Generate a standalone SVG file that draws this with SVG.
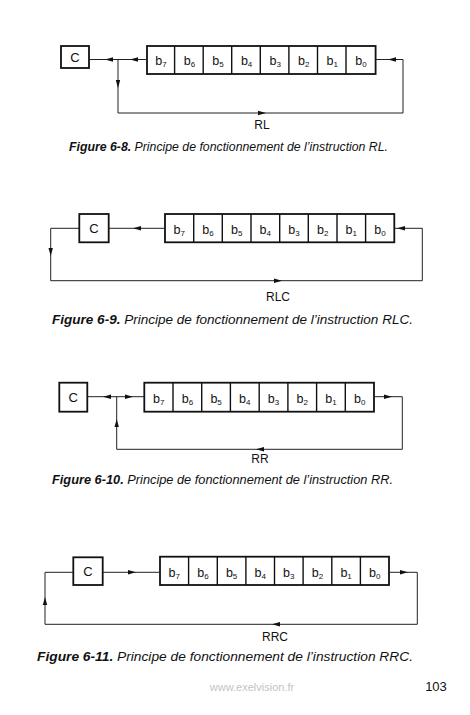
<svg xmlns="http://www.w3.org/2000/svg" width="470" height="715" viewBox="0 0 470 715">
<style>
.box{fill:#fff;stroke:#111;stroke-width:1.8}
.div{stroke:#111;stroke-width:1.4}
.ln{fill:none;stroke:#222;stroke-width:1}
.ah{fill:#111}
.bl{font-family:"Liberation Sans",Arial,sans-serif;font-size:12.5px;fill:#111;text-anchor:middle}
.sub{font-size:8px}
.cl{font-family:"Liberation Sans",Arial,sans-serif;font-size:13px;fill:#111;text-anchor:middle}
.lab{font-family:"Liberation Sans",Arial,sans-serif;font-size:12px;fill:#111;text-anchor:middle}
.cap{font-family:"Liberation Sans",Arial,sans-serif;font-size:12.5px;font-style:italic;fill:#111}
.capb{font-weight:bold}
</style>
<defs>
<path id="ah" class="ah" d="M0,0 L-8,-2.2 L-8,2.2 Z"/>
</defs>

<!-- Figure 6-8 RL -->
<g id="fig1">
<g id="f1-c"><rect class="box" x="61" y="46" width="28" height="22"/><text class="cl" x="75" y="61.5">C</text></g>
<g id="f1-reg">
<rect class="box" x="147" y="46" width="228.6" height="28"/>
<path class="div" d="M174.6,46V74M203.2,46V74M231.7,46V74M260.3,46V74M288.9,46V74M317.5,46V74M346.0,46V74"/>
<text class="bl" x="160.9" y="64.5">b<tspan class="sub" dy="2">7</tspan></text>
<text class="bl" x="189.5" y="64.5">b<tspan class="sub" dy="2">6</tspan></text>
<text class="bl" x="218.0" y="64.5">b<tspan class="sub" dy="2">5</tspan></text>
<text class="bl" x="246.6" y="64.5">b<tspan class="sub" dy="2">4</tspan></text>
<text class="bl" x="275.2" y="64.5">b<tspan class="sub" dy="2">3</tspan></text>
<text class="bl" x="303.8" y="64.5">b<tspan class="sub" dy="2">2</tspan></text>
<text class="bl" x="332.3" y="64.5">b<tspan class="sub" dy="2">1</tspan></text>
<text class="bl" x="360.9" y="64.5">b<tspan class="sub" dy="2">0</tspan></text>
</g>
<g id="f1-conn">
<path class="ln" d="M89,59.5H147M118,59.5V113H403V59.5H375.6"/>
<use href="#ah" transform="translate(130,59.5) rotate(180)"/>
<use href="#ah" transform="translate(105,59.5) rotate(180)"/>
<use href="#ah" transform="translate(118,88) rotate(90)"/>
<use href="#ah" transform="translate(266,113)"/>
<use href="#ah" transform="translate(388,59.5) rotate(180)"/>
</g>
<text class="lab" x="262" y="129">RL</text>
<text class="cap" x="69" y="151" textLength="319" lengthAdjust="spacingAndGlyphs"><tspan class="capb">Figure 6-8.</tspan> Principe de fonctionnement de l’instruction RL.</text>
</g>

<!-- Figure 6-9 RLC -->
<g id="fig2">
<g id="f2-c"><rect class="box" x="79.3" y="214" width="29.4" height="28.3"/><text class="cl" x="94" y="233">C</text></g>
<g id="f2-reg">
<rect class="box" x="165" y="214" width="229.3" height="28.3"/>
<path class="div" d="M193.7,214V242.3M222.3,214V242.3M251.0,214V242.3M279.7,214V242.3M308.3,214V242.3M337.0,214V242.3M365.6,214V242.3"/>
<text class="bl" x="179.3" y="233.5">b<tspan class="sub" dy="2">7</tspan></text>
<text class="bl" x="208.0" y="233.5">b<tspan class="sub" dy="2">6</tspan></text>
<text class="bl" x="236.7" y="233.5">b<tspan class="sub" dy="2">5</tspan></text>
<text class="bl" x="265.3" y="233.5">b<tspan class="sub" dy="2">4</tspan></text>
<text class="bl" x="294.0" y="233.5">b<tspan class="sub" dy="2">3</tspan></text>
<text class="bl" x="322.7" y="233.5">b<tspan class="sub" dy="2">2</tspan></text>
<text class="bl" x="351.3" y="233.5">b<tspan class="sub" dy="2">1</tspan></text>
<text class="bl" x="380.0" y="233.5">b<tspan class="sub" dy="2">0</tspan></text>
</g>
<g id="f2-conn">
<path class="ln" d="M165,228.3H108.7M79.3,228.3H50.7V280.7H422.3V228.3H394.3"/>
<use href="#ah" transform="translate(133,228.3) rotate(180)"/>
<use href="#ah" transform="translate(50.7,256) rotate(90)"/>
<use href="#ah" transform="translate(282,280.7)"/>
<use href="#ah" transform="translate(397,228.3) rotate(180)"/>
</g>
<text class="lab" x="278" y="300.5">RLC</text>
<text class="cap" x="52" y="324" textLength="361" lengthAdjust="spacingAndGlyphs"><tspan class="capb">Figure 6-9.</tspan> Principe de fonctionnement de l’instruction RLC.</text>
</g>

<!-- Figure 6-10 RR -->
<g id="fig3">
<g id="f3-c"><rect class="box" x="59.3" y="382.7" width="28" height="29"/><text class="cl" x="73.3" y="402">C</text></g>
<g id="f3-reg">
<rect class="box" x="144.3" y="382.7" width="229.7" height="29"/>
<path class="div" d="M173.0,382.7V411.7M201.7,382.7V411.7M230.4,382.7V411.7M259.2,382.7V411.7M287.9,382.7V411.7M316.6,382.7V411.7M345.3,382.7V411.7"/>
<text class="bl" x="158.7" y="402.5">b<tspan class="sub" dy="2">7</tspan></text>
<text class="bl" x="187.4" y="402.5">b<tspan class="sub" dy="2">6</tspan></text>
<text class="bl" x="216.1" y="402.5">b<tspan class="sub" dy="2">5</tspan></text>
<text class="bl" x="244.8" y="402.5">b<tspan class="sub" dy="2">4</tspan></text>
<text class="bl" x="273.5" y="402.5">b<tspan class="sub" dy="2">3</tspan></text>
<text class="bl" x="302.2" y="402.5">b<tspan class="sub" dy="2">2</tspan></text>
<text class="bl" x="331.0" y="402.5">b<tspan class="sub" dy="2">1</tspan></text>
<text class="bl" x="359.7" y="402.5">b<tspan class="sub" dy="2">0</tspan></text>
</g>
<g id="f3-conn">
<path class="ln" d="M87.3,396.7H144.3M116.7,396.7V449.3H402.3V396.7H374"/>
<use href="#ah" transform="translate(103,396.7) rotate(180)"/>
<use href="#ah" transform="translate(133,396.7)"/>
<use href="#ah" transform="translate(116.7,419) rotate(-90)"/>
<use href="#ah" transform="translate(256,449.3) rotate(180)"/>
<use href="#ah" transform="translate(392,396.7)"/>
</g>
<text class="lab" x="260" y="463">RR</text>
<text class="cap" x="52" y="484" textLength="341" lengthAdjust="spacingAndGlyphs"><tspan class="capb">Figure 6-10.</tspan> Principe de fonctionnement de l’instruction RR.</text>
</g>

<!-- Figure 6-11 RRC -->
<g id="fig4">
<g id="f4-c"><rect class="box" x="73.3" y="557.3" width="29.4" height="27.7"/><text class="cl" x="88" y="576">C</text></g>
<g id="f4-reg">
<rect class="box" x="160" y="556.7" width="229" height="28.3"/>
<path class="div" d="M188.6,556.7V585M217.3,556.7V585M245.9,556.7V585M274.5,556.7V585M303.1,556.7V585M331.8,556.7V585M360.4,556.7V585"/>
<text class="bl" x="174.3" y="576.5">b<tspan class="sub" dy="2">7</tspan></text>
<text class="bl" x="202.9" y="576.5">b<tspan class="sub" dy="2">6</tspan></text>
<text class="bl" x="231.6" y="576.5">b<tspan class="sub" dy="2">5</tspan></text>
<text class="bl" x="260.2" y="576.5">b<tspan class="sub" dy="2">4</tspan></text>
<text class="bl" x="288.8" y="576.5">b<tspan class="sub" dy="2">3</tspan></text>
<text class="bl" x="317.4" y="576.5">b<tspan class="sub" dy="2">2</tspan></text>
<text class="bl" x="346.1" y="576.5">b<tspan class="sub" dy="2">1</tspan></text>
<text class="bl" x="374.7" y="576.5">b<tspan class="sub" dy="2">0</tspan></text>
</g>
<g id="f4-conn">
<path class="ln" d="M102.7,572.3H160M389,572.3H417.3V624.3H45V572.3H73.3"/>
<use href="#ah" transform="translate(136,572.3)"/>
<use href="#ah" transform="translate(408,572.3)"/>
<use href="#ah" transform="translate(272,624.3) rotate(180)"/>
<use href="#ah" transform="translate(45,597) rotate(-90)"/>
</g>
<text class="lab" x="275" y="641">RRC</text>
<text class="cap" x="37" y="661" textLength="376" lengthAdjust="spacingAndGlyphs"><tspan class="capb">Figure 6-11.</tspan> Principe de fonctionnement de l’instruction RRC.</text>
</g>

<text x="252" y="691" font-family="'Liberation Sans',Arial,sans-serif" font-size="11" fill="#c4c4c4" text-anchor="middle">www.exelvision.fr</text>
<text x="436" y="691" font-family="'Liberation Sans',Arial,sans-serif" font-size="13" fill="#111" text-anchor="middle">103</text>
</svg>
